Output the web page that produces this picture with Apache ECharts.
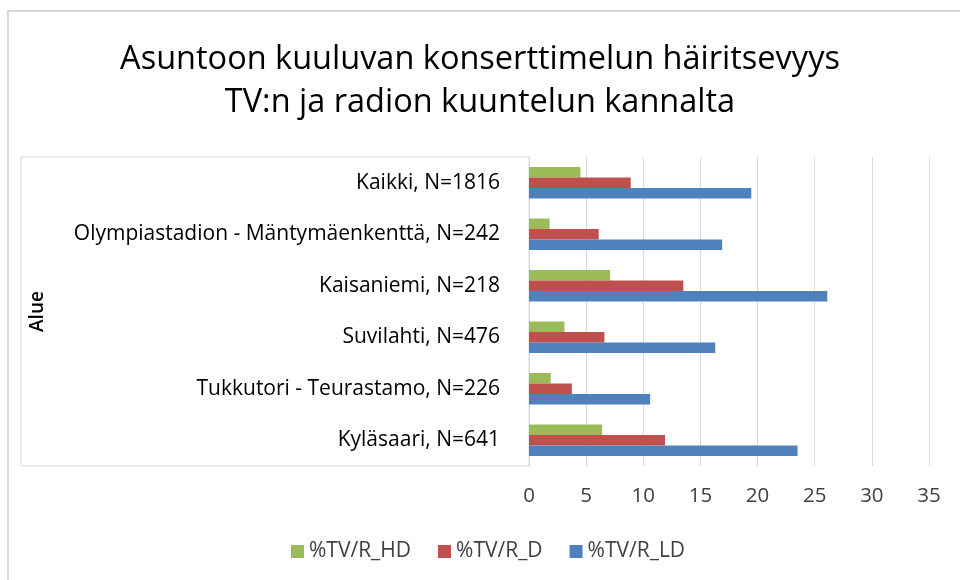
<!DOCTYPE html>
<html>
<head>
<meta charset="utf-8">
<script src="https://cdn.jsdelivr.net/npm/echarts@6/dist/echarts.min.js"></script>
<style>
  html, body { margin: 0; padding: 0; background: #fff; }
  #chart { width: 960px; height: 580px; }
</style>
</head>
<body>
<div id="chart"></div>
<script>
// areas, bottom to top as on the axis
const areas = [
  "Kyläsaari, N=641",
  "Tukkutori - Teurastamo, N=226",
  "Suvilahti, N=476",
  "Kaisaniemi, N=218",
  "Olympiastadion - Mäntymäenkenttä, N=242",
  "Kaikki, N=1816"
]
const hd = [6.4, 1.9, 3.1, 7.1, 1.8, 4.5]
const d = [11.9, 3.75, 6.6, 13.5, 6.1, 8.9]
const ld = [23.5, 10.6, 16.3, 26.1, 16.9, 19.45]
const seriesNames = ["%TV/R_HD", "%TV/R_D", "%TV/R_LD"]
const colors = ["#9bbb59", "#c0504d", "#4f81bd"]

const font = "'Open Sans', sans-serif"
const chart = echarts.init(document.getElementById("chart"))

chart.setOption({
  animation: false,
  textStyle: { fontFamily: font },
  title: {
    text: "Asuntoon kuuluvan konserttimelun häiritsevyys\nTV:n ja radion kuuntelun kannalta",
    left: "center",
    top: 33,
    textStyle: { fontSize: 32.5, fontWeight: "normal", color: "#000", lineHeight: 43, fontFamily: font }
  },
  legend: {
    data: seriesNames,
    left: 286,
    top: 536,
    itemWidth: 13,
    itemHeight: 13,
    itemGap: 27,
    icon: "rect",
    textStyle: { fontSize: 21, color: "#404040", fontFamily: font }
  },
  grid: { left: 529, top: 157, right: 31, bottom: 114, containLabel: false },
  xAxis: {
    type: "value",
    min: 0,
    max: 35,
    interval: 5,
    axisLine: { show: false },
    axisTick: { show: false },
    splitLine: { lineStyle: { color: "#d9d9d9", width: 1 } },
    axisLabel: { fontSize: 20.5, color: "#404040", margin: 20, fontFamily: font }
  },
  yAxis: {
    type: "category",
    data: areas,
    name: "Alue",
    nameLocation: "middle",
    nameRotate: 90,
    nameGap: 482,
    nameTextStyle: { fontSize: 19, fontWeight: 600, color: "#000", fontFamily: font },
    axisLine: { show: true, lineStyle: { color: "#d9d9d9" } },
    axisTick: { show: false },
    axisLabel: { fontSize: 21, color: "#000", margin: 29, fontFamily: font }
  },
  graphic: [
    {
      type: "rect",
      shape: { x: 8, y: 11, width: 960, height: 580 },
      style: { fill: null, stroke: "#d9d9d9", lineWidth: 2 },
      silent: true
    },
    {
      type: "rect",
      shape: { x: 21, y: 157, width: 508, height: 309 },
      style: { fill: null, stroke: "#d9d9d9", lineWidth: 1 },
      silent: true
    }
  ],
  series: [hd, d, ld].map((vals, i) => ({
    name: seriesNames[i],
    type: "bar",
    data: vals,
    barWidth: 10.5,
    barGap: "0%",
    itemStyle: { color: colors[i] }
  }))
})
</script>
</body>
</html>
